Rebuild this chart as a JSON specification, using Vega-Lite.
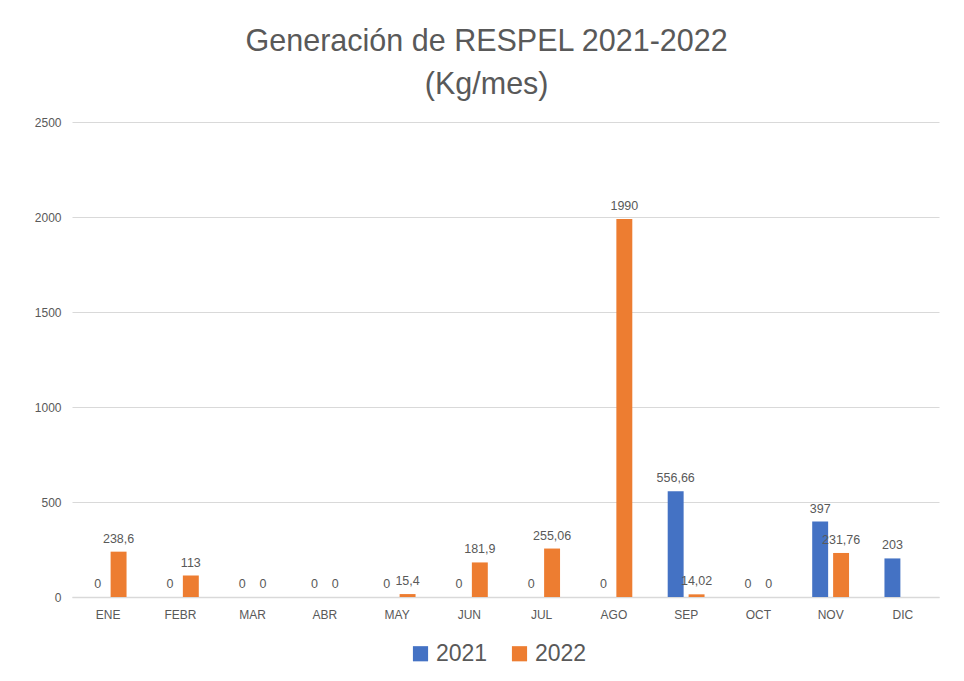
{
  "$schema": "https://vega.github.io/schema/vega-lite/v6.json",
  "width": 867,
  "height": 475,
  "padding": {"left": 34, "top": 26, "right": 24, "bottom": 10},
  "background": "white",
  "title": {
    "text": ["Generación de RESPEL 2021-2022", "(Kg/mes)"],
    "fontSize": 30.5,
    "font": "Liberation Sans",
    "fontWeight": "normal",
    "color": "#595959",
    "lineHeight": 43,
    "anchor": "middle",
    "frame": "bounds",
    "offset": 16
  },
  "config": {
    "locale": {
      "number": {"decimal": ",", "thousands": ".", "grouping": [3], "currency": ["$", ""]}
    },
    "view": {"stroke": null},
    "font": "Liberation Sans"
  },
  "data": {
    "values": [
      {"mes": "ENE", "anio": "2021", "valor": 0},
      {"mes": "ENE", "anio": "2022", "valor": 238.6},
      {"mes": "FEBR", "anio": "2021", "valor": 0},
      {"mes": "FEBR", "anio": "2022", "valor": 113},
      {"mes": "MAR", "anio": "2021", "valor": 0},
      {"mes": "MAR", "anio": "2022", "valor": 0},
      {"mes": "ABR", "anio": "2021", "valor": 0},
      {"mes": "ABR", "anio": "2022", "valor": 0},
      {"mes": "MAY", "anio": "2021", "valor": 0},
      {"mes": "MAY", "anio": "2022", "valor": 15.4},
      {"mes": "JUN", "anio": "2021", "valor": 0},
      {"mes": "JUN", "anio": "2022", "valor": 181.9},
      {"mes": "JUL", "anio": "2021", "valor": 0},
      {"mes": "JUL", "anio": "2022", "valor": 255.06},
      {"mes": "AGO", "anio": "2021", "valor": 0},
      {"mes": "AGO", "anio": "2022", "valor": 1990},
      {"mes": "SEP", "anio": "2021", "valor": 556.66},
      {"mes": "SEP", "anio": "2022", "valor": 14.02},
      {"mes": "OCT", "anio": "2021", "valor": 0},
      {"mes": "OCT", "anio": "2022", "valor": 0},
      {"mes": "NOV", "anio": "2021", "valor": 397},
      {"mes": "NOV", "anio": "2022", "valor": 231.76},
      {"mes": "DIC", "anio": "2021", "valor": 203}
    ]
  },
  "encoding": {
    "x": {
      "field": "mes",
      "type": "nominal",
      "sort": ["ENE", "FEBR", "MAR", "ABR", "MAY", "JUN", "JUL", "AGO", "SEP", "OCT", "NOV", "DIC"],
      "scale": {"paddingInner": 0.49, "paddingOuter": 0.245},
      "axis": {
        "title": null,
        "labelAngle": 0,
        "ticks": false,
        "domainColor": "#d9d9d9",
        "domainWidth": 1.5,
        "labelColor": "#595959",
        "labelFontSize": 12,
        "labelPadding": 12
      }
    },
    "xOffset": {
      "field": "anio",
      "type": "nominal",
      "scale": {"paddingInner": 0.238, "paddingOuter": 0}
    },
    "y": {
      "field": "valor",
      "type": "quantitative",
      "scale": {"domain": [0, 2500]},
      "axis": {
        "title": null,
        "values": [0, 500, 1000, 1500, 2000, 2500],
        "format": "d",
        "domain": false,
        "ticks": false,
        "labelColor": "#595959",
        "labelFontSize": 12,
        "labelPadding": 11,
        "gridColor": "#d9d9d9",
        "gridWidth": 1
      }
    }
  },
  "layer": [
    {
      "mark": {"type": "bar"},
      "encoding": {
        "color": {
          "field": "anio",
          "type": "nominal",
          "scale": {"domain": ["2021", "2022"], "range": ["#4472C4", "#ED7D31"]},
          "legend": {
            "title": null,
            "orient": "none",
            "legendX": 337,
            "legendY": 520,
            "direction": "horizontal",
            "symbolType": "square",
            "symbolSize": 230,
            "symbolStrokeWidth": 0,
            "labelFontSize": 23,
            "labelColor": "#595959",
            "columnPadding": 20
          }
        }
      }
    },
    {
      "mark": {"type": "text", "baseline": "bottom", "dy": -6, "fontSize": 12.5, "color": "#595959"},
      "encoding": {
        "text": {"field": "valor", "type": "quantitative", "format": "~g"}
      }
    }
  ]
}
